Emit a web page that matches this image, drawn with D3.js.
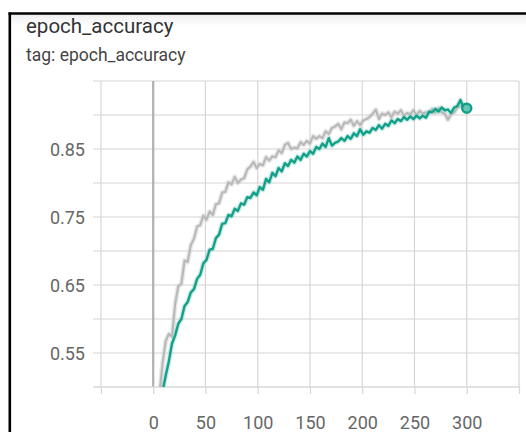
<!DOCTYPE html>
<html>
<head>
<meta charset="utf-8">
<script src="https://cdn.jsdelivr.net/npm/d3@7"></script>
<style>
  html, body { margin: 0; padding: 0; background: #fff; }
  svg { display: block; font-family: Roboto, "Noto Sans", sans-serif; }
</style>
</head>
<body>
<svg id="chart" width="526" height="432"></svg>
<script>
const title = "epoch_accuracy";
const subtitle = "tag: epoch_accuracy";

const epochs = [0,3,6,9,12,15,18,21,24,27,30,33,36,39,42,45,48,51,54,57,60,63,66,69,72,75,78,81,84,87,90,93,96,99,102,105,108,111,114,117,120,123,126,129,132,135,138,141,144,147,150,153,156,159,162,165,168,171,174,177,180,183,186,189,192,195,198,201,204,207,210,213,216,219,222,225,228,231,234,237,240,243,246,249,252,255,258,261,264,267,270,273,276,279,282,285,288,291,294,297,300];

const grayRun = [
  0.40,0.44,0.49,0.535,0.568,0.578,0.574,0.622,0.648,0.652,
  0.686,0.684,0.709,0.718,0.736,0.738,0.752,0.746,0.758,0.753,
  0.769,0.770,0.786,0.787,0.801,0.798,0.809,0.800,0.805,0.807,
  0.820,0.824,0.831,0.822,0.828,0.826,0.838,0.833,0.839,0.838,
  0.848,0.844,0.856,0.859,0.850,0.852,0.851,0.860,0.856,0.862,
  0.858,0.869,0.865,0.869,0.866,0.876,0.872,0.881,0.883,0.887,
  0.879,0.889,0.888,0.893,0.884,0.891,0.885,0.892,0.894,0.897,
  0.902,0.908,0.894,0.902,0.900,0.904,0.897,0.905,0.902,0.907,
  0.899,0.903,0.901,0.907,0.900,0.906,0.902,0.904,0.903,0.909,
  0.903,0.910,0.904,0.902,0.893,0.901,0.904,0.911,0.913,0.916,0.909];

const tealRun = [
  0.43,0.45,0.47,0.494,0.517,0.538,0.564,0.576,0.593,0.600,
  0.619,0.625,0.639,0.644,0.659,0.665,0.682,0.687,0.702,0.703,
  0.719,0.724,0.740,0.741,0.753,0.751,0.762,0.759,0.770,0.768,
  0.779,0.778,0.786,0.782,0.794,0.790,0.806,0.801,0.815,0.810,
  0.822,0.817,0.829,0.825,0.834,0.830,0.839,0.834,0.843,0.839,
  0.847,0.843,0.853,0.850,0.858,0.853,0.866,0.855,0.859,0.861,
  0.866,0.862,0.869,0.865,0.873,0.869,0.879,0.871,0.876,0.874,
  0.881,0.878,0.885,0.880,0.887,0.884,0.892,0.888,0.894,0.891,
  0.897,0.893,0.898,0.894,0.899,0.895,0.899,0.896,0.905,0.904,
  0.909,0.905,0.911,0.907,0.908,0.903,0.911,0.913,0.922,0.910,0.910];

const xGridTicks = [-50,0,50,100,150,200,250,300,350];
const xLabelTicks = [0,50,100,150,200,250,300];
const yGridTicks = [0.55,0.60,0.65,0.70,0.75,0.80,0.85,0.90,0.95];
const yLabelTicks = [0.55,0.65,0.75,0.85];

const svg = d3.select("#chart");

// frame
const grad = svg.append("defs").append("linearGradient")
  .attr("id","shade").attr("x1",0).attr("x2",0).attr("y1",0).attr("y2",1);
grad.append("stop").attr("offset","0%").attr("stop-color","#000").attr("stop-opacity",0.07);
grad.append("stop").attr("offset","100%").attr("stop-color","#000").attr("stop-opacity",0);
svg.append("rect").attr("x",10).attr("y",14).attr("width",516).attr("height",12).attr("fill","url(#shade)");
svg.append("line").attr("x1",8.5).attr("x2",526).attr("y1",13.5).attr("y2",13.5)
  .attr("stroke","#000").attr("stroke-width",2.6);
svg.append("line").attr("x1",9.8).attr("x2",9.8).attr("y1",12.5).attr("y2",432)
  .attr("stroke","#000").attr("stroke-width",2.6);

svg.append("text").attr("x",26).attr("y",33).attr("font-size",20.5).attr("fill","#333").text(title);
svg.append("text").attr("x",26).attr("y",61).attr("font-size",17.5).attr("fill","#444").text(subtitle);

const x = d3.scaleLinear().domain([-57.6, 350]).range([93, 519]);
const y = d3.scaleLinear().domain([0.5, 0.95]).range([387, 81]);

// grid
const g = svg.append("g");
g.selectAll("line.hg").data(yGridTicks).join("line")
  .attr("x1",93).attr("x2",519)
  .attr("y1",d=>y(d)).attr("y2",d=>y(d))
  .attr("stroke","#e2e2e2").attr("stroke-width",1.6);
g.selectAll("line.vg").data(xGridTicks).join("line")
  .attr("x1",d=>x(d)).attr("x2",d=>x(d))
  .attr("y1",y(0.95)).attr("y2",y(0.5))
  .attr("stroke",d=> d===0 ? "#b0b0b0" : "#d6d6d6")
  .attr("stroke-width",d=> d===0 ? 2.2 : 1.2);

// x axis
const xAxis = d3.axisBottom(x).tickValues(xGridTicks).tickSize(7)
  .tickFormat(d => xLabelTicks.includes(d) ? d : "");
const ax = svg.append("g").attr("transform",`translate(0,${y(0.5)})`).call(xAxis);
ax.select(".domain").attr("stroke","#d9d9d9").attr("stroke-width",1.6).attr("d","M93,0H519");
ax.selectAll(".tick line").attr("stroke","#d6d6d6").attr("stroke-width",1.2);
ax.selectAll(".tick text").attr("font-size",18).attr("fill","#666").attr("font-family","Roboto").attr("dy",0).attr("y",42);

// y axis labels
const yAxis = d3.axisLeft(y).tickValues(yLabelTicks).tickSize(0).tickPadding(0)
  .tickFormat(d3.format(".2f"));
const ay = svg.append("g").attr("transform","translate(85,0)").call(yAxis);
ay.select(".domain").remove();
ay.selectAll(".tick text").attr("font-size",18).attr("fill","#666").attr("font-family","Roboto").attr("dy","0.36em");

// clip
svg.append("clipPath").attr("id","plotclip").append("rect")
  .attr("x",93).attr("y",60).attr("width",426).attr("height",y(0.5)-60);

const line = d3.line().x((d,i)=>x(epochs[i])).y(d=>y(d));
const lines = svg.append("g").attr("clip-path","url(#plotclip)");

const grayC = "#b9b9b9", tealC = "#12a089";
lines.append("path").datum(grayRun).attr("d",line).attr("fill","none")
  .attr("stroke","#d4d4d4").attr("stroke-width",5).attr("stroke-opacity",0.5).attr("stroke-linejoin","round");
lines.append("path").datum(grayRun).attr("d",line).attr("fill","none")
  .attr("stroke",grayC).attr("stroke-width",2.2).attr("stroke-linejoin","round");
lines.append("path").datum(tealRun).attr("d",line).attr("fill","none")
  .attr("stroke","#8fd3c8").attr("stroke-width",5).attr("stroke-opacity",0.45).attr("stroke-linejoin","round");
lines.append("path").datum(tealRun).attr("d",line).attr("fill","none")
  .attr("stroke",tealC).attr("stroke-width",2.4).attr("stroke-linejoin","round");

const last = tealRun.length - 1;
svg.append("circle").attr("cx",x(epochs[last])).attr("cy",y(tealRun[last])).attr("r",4.5)
  .attr("fill","#6cc4b5").attr("stroke",tealC).attr("stroke-width",2.5);
</script>
</body>
</html>
